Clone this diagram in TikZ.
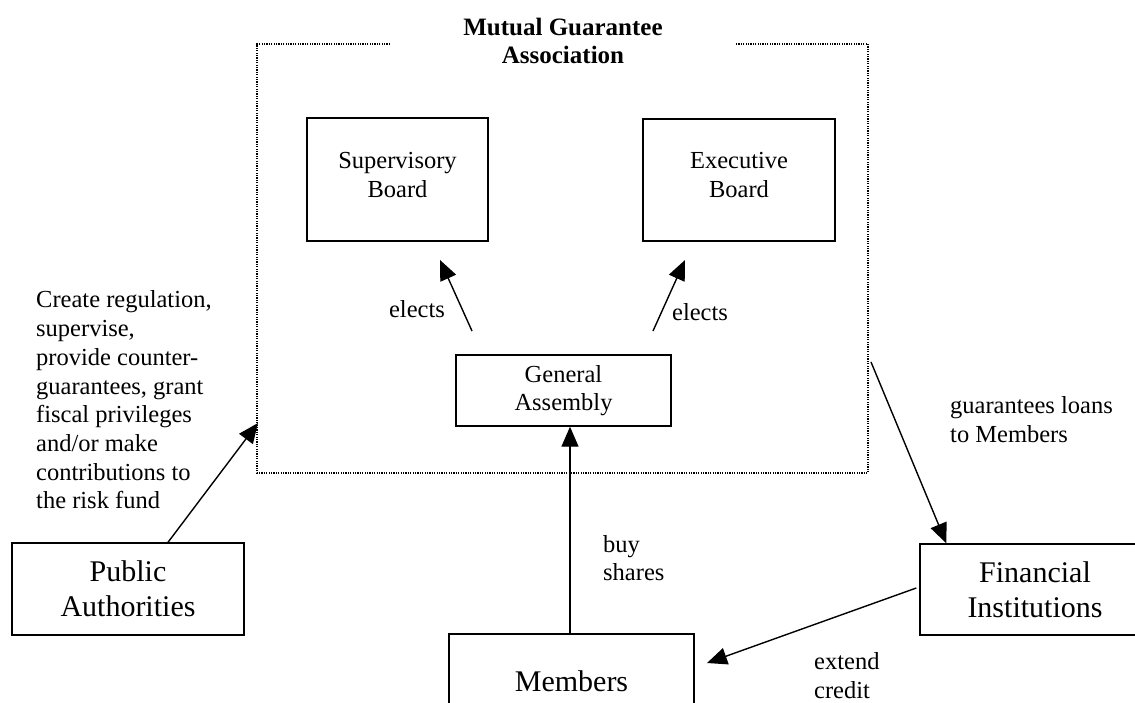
\documentclass[tikz,border=0pt]{standalone}
\usepackage{fontspec}
\setmainfont{Liberation Serif}
\usetikzlibrary{arrows.meta,calc}
\begin{document}
\begin{tikzpicture}[x=1pt,y=-1pt,
  box/.style={draw, line width=1.4pt, inner sep=0pt, align=center},
  small/.style={font=\fontsize{24.5}{28.7}\selectfont, inner sep=0pt, align=center},
  big/.style={font=\fontsize{30}{35}\selectfont},
  arr/.style={line width=1.4pt, -{Triangle[length=20pt,width=17pt]}},
  frameline/.style={line width=1.2pt, dash pattern=on 1.2pt off 1.2pt}]
\useasboundingbox (0,0) rectangle (1135,702);
\clip (0,0) rectangle (1135,702);
\fill[white] (0,0) rectangle (1135,702);

% association frame (dotted, open at the top for the title)
\coordinate (frTL) at (257,44);
\coordinate (frBR) at (868,473);
\draw[frameline] (390,44) -- (frTL) -- (frTL |- frBR) -- (frBR) -- (frBR |- frTL) -- (735,44);
\node[small, font=\fontsize{25}{28}\selectfont\bfseries] (title) at (563,41) {Mutual Guarantee\\Association};

% boards
\node[box, minimum width=181pt, minimum height=123pt] (sup) at (397.5,179.5) {};
\node[small] (supt) at (397.5,175) {Supervisory\\Board};
\node[box, minimum width=192pt, minimum height=122pt] (exe) at (739,180) {};
\node[small] (exet) at (739,175) {Executive\\Board};

% general assembly
\node[box, small, draw, line width=1.4pt, minimum width=215pt, minimum height=71pt] (ga) at (563.5,390.5) {General\\Assembly};

% elects arrows
\coordinate (elS1) at (472,331);
\coordinate (elT1) at (440,260);
\coordinate (elS2) at (653,331);
\coordinate (elT2) at (685,260);
\draw[arr] (elS1) -- (elT1);
\draw[arr] (elS2) -- (elT2);
\node[small] (el1) at (417,309) {elects};
\node[small] (el2) at (700,312) {elects};

% outside parties
\node[box, big, minimum width=232pt, minimum height=92pt] (pa) at (128,589) {Public\\Authorities};
\node[box, big, minimum width=230pt, minimum height=91pt] (fin) at (1035,589.5) {Financial\\Institutions};
\node[box, big, minimum width=245pt, minimum height=94pt] (mem) at (571.5,681) {Members};

% left explanatory text
\node[small, align=left, anchor=west] (patext) at (36,400) {Create regulation,\\supervise,\\provide counter-\\guarantees, grant\\fiscal privileges\\and/or make\\contributions to\\the risk fund};

% connectors
\coordinate (paTip) at (258,423);
\draw[arr] ($(pa.north)+(40,0)$) -- (paTip);

\draw[arr] (mem.north -| 570,0) -- (ga.south -| 570,0);
\node[small, align=left, anchor=west] (buy) at (603,558) {buy\\shares};

\coordinate (glS) at (871,362);
\draw[arr] (glS) -- ($(fin.north west)+(27,0)$);
\node[small, align=left, anchor=west] (gl) at (950,419.5) {guarantees loans\\to Members};

\coordinate (ecT) at (707,663);
\draw[arr] ($(fin.west)+(-3,-1.5)$) -- (ecT);
\node[small, align=left, anchor=west] (ec) at (814,675.5) {extend\\credit};
\end{tikzpicture}
\end{document}
